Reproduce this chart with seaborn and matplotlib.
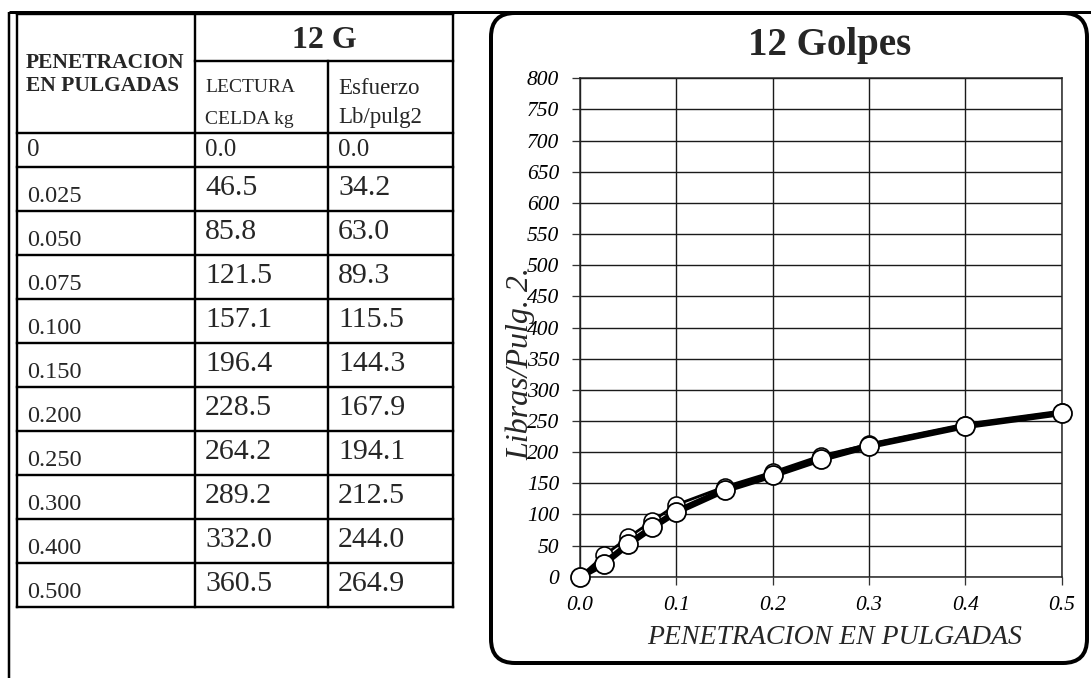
import matplotlib
matplotlib.use("Agg")
import matplotlib.pyplot as plt
from matplotlib.patches import FancyBboxPatch
import pandas as pd
import seaborn as sns

# CBR penetration test, 12 blows
penetracion = [0.0, 0.025, 0.050, 0.075, 0.100, 0.150, 0.200, 0.250, 0.300, 0.400, 0.500]
penetracion_txt = ["0", "0.025", "0.050", "0.075", "0.100", "0.150",
                   "0.200", "0.250", "0.300", "0.400", "0.500"]
lectura_kg = [0.0, 46.5, 85.8, 121.5, 157.1, 196.4, 228.5, 264.2, 289.2, 332.0, 360.5]
esfuerzo = [0.0, 34.2, 63.0, 89.3, 115.5, 144.3, 167.9, 194.1, 212.5, 244.0, 264.9]
esfuerzo_corregido = [0.0, 21.0, 52.0, 79.0, 104.0, 139.0, 163.0, 189.0, 210.0, 242.0, 263.0]
y_ticks = list(range(0, 801, 50))
x_ticks = [0.0, 0.1, 0.2, 0.3, 0.4, 0.5]
x_tick_labels = ["0.0", "0.1", "0.2", "0.3", "0.4", "0.5"]

W, H = 1091, 678
PX = 0.72  # one pixel in points at 100 dpi

sns.set_theme(style="white")
plt.rcParams["font.family"] = ["Liberation Serif", "DejaVu Serif"]

fig = plt.figure(figsize=(W / 100, H / 100), dpi=100)
fig.patch.set_facecolor("white")

# Page layer in pixel coordinates
bg = fig.add_axes([0, 0, 1, 1])
bg.set_xlim(0, W)
bg.set_ylim(H, 0)
bg.axis("off")

# page border lines
bg.plot([9, W], [11.5, 11.5], color="black", lw=3 * PX, solid_capstyle="butt")
bg.plot([9, 9], [11.5, H], color="black", lw=2.5 * PX, solid_capstyle="butt")

# ---- table ----
col_x = [17, 195, 328, 453]
t_top, t_sub, t_head = 14, 61, 133
row_lines = [t_head] + [167 + 44 * i for i in range(11)]
t_bot = row_lines[-1]
lw_t = 2.4 * PX

def hline(y, x0, x1):
    bg.plot([x0, x1], [y, y], color="black", lw=lw_t, solid_capstyle="projecting")

def vline(x, y0, y1):
    bg.plot([x, x], [y0, y1], color="black", lw=lw_t, solid_capstyle="projecting")

hline(t_top, col_x[0], col_x[3])
hline(t_sub, col_x[1], col_x[3])
for y in row_lines:
    hline(y, col_x[0], col_x[3])
vline(col_x[0], t_top, t_bot)
vline(col_x[1], t_top, t_bot)
vline(col_x[2], t_sub, t_bot)
vline(col_x[3], t_top, t_bot)

bg.text((col_x[1] + col_x[3]) / 2, 41, "12 G", ha="center", va="center",
        fontsize=23, fontweight="bold")
bg.text(26, 63, "PENETRACION", ha="left", va="center", fontsize=15.5, fontweight="bold")
bg.text(26, 86, "EN PULGADAS", ha="left", va="center", fontsize=15.5, fontweight="bold")
bg.text(205, 87, "LECTURA", ha="left", va="center", fontsize=14)
bg.text(205, 119, "CELDA kg", ha="left", va="center", fontsize=14)
bg.text(338, 89, "Esfuerzo", ha="left", va="center", fontsize=16.5)
bg.text(338, 118, "Lb/pulg2", ha="left", va="center", fontsize=16.5)

for i, (p, lk, ef) in enumerate(zip(penetracion_txt, lectura_kg, esfuerzo)):
    top = row_lines[i]
    if i == 0:
        bg.text(27, top + 17, p, ha="left", va="center", fontsize=18)
        bg.text(205, top + 17, f"{lk:.1f}", ha="left", va="center", fontsize=18)
        bg.text(338, top + 17, f"{ef:.1f}", ha="left", va="center", fontsize=18)
    else:
        bg.text(27, top + 29, p, ha="left", va="center", fontsize=17.5)
        bg.text(205, top + 21, f"{lk:.1f}", ha="left", va="center", fontsize=21.5)
        bg.text(338, top + 21, f"{ef:.1f}", ha="left", va="center", fontsize=21.5)

# ---- chart frame ----
frame = FancyBboxPatch((491, 13), 1087 - 491, 663 - 13,
                       boxstyle="round,pad=0,rounding_size=24",
                       fc="none", ec="black", lw=4 * PX)
bg.add_patch(frame)

# ---- chart ----
ax_l, ax_r, ax_t, ax_b = 580, 1061.7, 78.3, 576.7
ax = fig.add_axes([ax_l / W, 1 - ax_b / H, (ax_r - ax_l) / W, (ax_b - ax_t) / H])
ax.set_facecolor("white")

df = pd.DataFrame({"pen": penetracion, "raw": esfuerzo, "corr": esfuerzo_corregido})

sns.lineplot(data=df, x="pen", y="raw", ax=ax, color="black", lw=2.8 * PX,
             marker="o", markersize=17 * PX, markerfacecolor="white",
             markeredgecolor="black", markeredgewidth=1.6 * PX, zorder=4, clip_on=False)
sns.lineplot(data=df, x="pen", y="corr", ax=ax, color="black", lw=6.5 * PX,
             marker="o", markersize=19 * PX, markerfacecolor="white",
             markeredgecolor="black", markeredgewidth=1.8 * PX, zorder=5, clip_on=False)

ax.set_xlim(0, 0.5)
ax.set_ylim(0, 800)
ax.set_xticks(x_ticks)
ax.set_xticklabels(x_tick_labels, fontstyle="italic", fontsize=15.5)
ax.set_yticks(y_ticks)
ax.set_yticklabels([str(v) for v in y_ticks], fontstyle="italic", fontsize=15.5)
ax.tick_params(axis="both", direction="out", length=6, width=1.3 * PX, color="#333333",
               labelcolor="black", bottom=True, left=True)
ax.tick_params(axis="y", pad=9)
ax.tick_params(axis="x", pad=8)
ax.grid(True, color="#1a1a1a", lw=1.4 * PX)
for s in ax.spines.values():
    s.set_visible(True)
    s.set_color("#222222")
    s.set_linewidth(1.5 * PX)
ax.set_xlabel("")
ax.set_ylabel("")

fig.text(830 / W, 1 - 45 / H, "12 Golpes", ha="center", va="center",
         fontsize=28, fontweight="bold")
fig.text(835 / W, 1 - 638 / H, "PENETRACION EN PULGADAS", ha="center", va="center",
         fontsize=20, fontstyle="italic")
fig.text(521 / W, 1 - 364 / H, "Libras/Pulg. 2.", ha="center", va="center",
         rotation=90, fontsize=23, fontstyle="italic", zorder=10)

fig.savefig("out.png", dpi=100, facecolor="white")
